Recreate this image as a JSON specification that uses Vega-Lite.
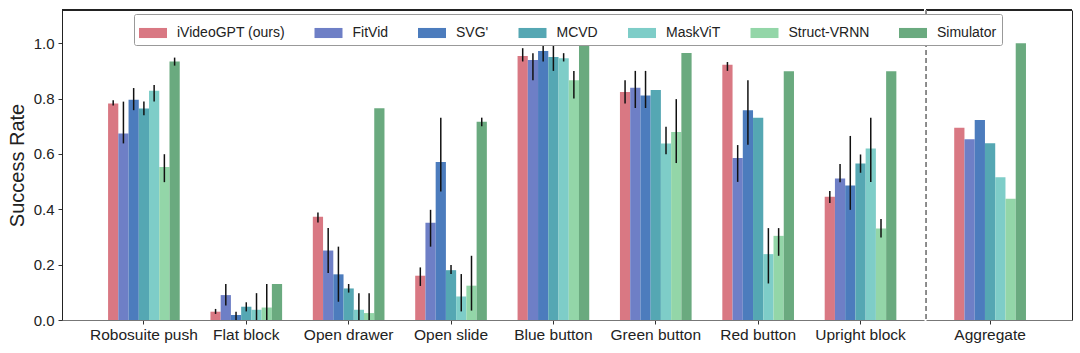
{
  "$schema": "https://vega.github.io/schema/vega-lite/v6.json",
  "padding": {"left": 7, "top": 9, "right": 8, "bottom": 0},
  "config": {
    "view": {"stroke": null},
    "font": "Liberation Sans",
    "axis": {"labelFont": "Liberation Sans", "titleFont": "Liberation Sans", "labelColor": "#222", "titleColor": "#222", "grid": false, "domainColor": "#333", "tickColor": "#333", "labelFontSize": 15, "titleFontWeight": "normal", "tickSize": 4}
  },
  "data": {"values": [
    {"task": "Robosuite push", "method": "iVideoGPT (ours)", "value": 0.782, "lo": 0.775, "hi": 0.794},
    {"task": "Robosuite push", "method": "FitVid", "value": 0.674, "lo": 0.638, "hi": 0.789},
    {"task": "Robosuite push", "method": "SVG'", "value": 0.796, "lo": 0.758, "hi": 0.838},
    {"task": "Robosuite push", "method": "MCVD", "value": 0.764, "lo": 0.740, "hi": 0.789},
    {"task": "Robosuite push", "method": "MaskViT", "value": 0.828, "lo": 0.789, "hi": 0.849},
    {"task": "Robosuite push", "method": "Struct-VRNN", "value": 0.553, "lo": 0.498, "hi": 0.599},
    {"task": "Robosuite push", "method": "Simulator", "value": 0.934, "lo": 0.919, "hi": 0.948},
    {"task": "Flat block", "method": "iVideoGPT (ours)", "value": 0.030, "lo": 0.022, "hi": 0.040},
    {"task": "Flat block", "method": "FitVid", "value": 0.090, "lo": 0.052, "hi": 0.130},
    {"task": "Flat block", "method": "SVG'", "value": 0.018, "lo": 0.0, "hi": 0.030},
    {"task": "Flat block", "method": "MCVD", "value": 0.048, "lo": 0.031, "hi": 0.064},
    {"task": "Flat block", "method": "MaskViT", "value": 0.037, "lo": 0.0, "hi": 0.097},
    {"task": "Flat block", "method": "Struct-VRNN", "value": 0.045, "lo": 0.0, "hi": 0.130},
    {"task": "Flat block", "method": "Simulator", "value": 0.130, "lo": null, "hi": null},
    {"task": "Open drawer", "method": "iVideoGPT (ours)", "value": 0.373, "lo": 0.352, "hi": 0.388},
    {"task": "Open drawer", "method": "FitVid", "value": 0.251, "lo": 0.170, "hi": 0.332},
    {"task": "Open drawer", "method": "SVG'", "value": 0.165, "lo": 0.066, "hi": 0.265},
    {"task": "Open drawer", "method": "MCVD", "value": 0.114, "lo": 0.099, "hi": 0.130},
    {"task": "Open drawer", "method": "MaskViT", "value": 0.037, "lo": 0.0, "hi": 0.097},
    {"task": "Open drawer", "method": "Struct-VRNN", "value": 0.025, "lo": 0.0, "hi": 0.097},
    {"task": "Open drawer", "method": "Simulator", "value": 0.765, "lo": null, "hi": null},
    {"task": "Open slide", "method": "iVideoGPT (ours)", "value": 0.160, "lo": 0.123, "hi": 0.190},
    {"task": "Open slide", "method": "FitVid", "value": 0.351, "lo": 0.265, "hi": 0.398},
    {"task": "Open slide", "method": "SVG'", "value": 0.571, "lo": 0.464, "hi": 0.731},
    {"task": "Open slide", "method": "MCVD", "value": 0.180, "lo": 0.166, "hi": 0.199},
    {"task": "Open slide", "method": "MaskViT", "value": 0.085, "lo": 0.031, "hi": 0.166},
    {"task": "Open slide", "method": "Struct-VRNN", "value": 0.124, "lo": 0.034, "hi": 0.232},
    {"task": "Open slide", "method": "Simulator", "value": 0.716, "lo": 0.700, "hi": 0.731},
    {"task": "Blue button", "method": "iVideoGPT (ours)", "value": 0.954, "lo": 0.934, "hi": 0.982},
    {"task": "Blue button", "method": "FitVid", "value": 0.939, "lo": 0.866, "hi": 0.964},
    {"task": "Blue button", "method": "SVG'", "value": 0.972, "lo": 0.934, "hi": 1.0},
    {"task": "Blue button", "method": "MCVD", "value": 0.950, "lo": 0.900, "hi": 1.0},
    {"task": "Blue button", "method": "MaskViT", "value": 0.946, "lo": 0.934, "hi": 0.964},
    {"task": "Blue button", "method": "Struct-VRNN", "value": 0.866, "lo": 0.800, "hi": 0.900},
    {"task": "Blue button", "method": "Simulator", "value": 1.0, "lo": null, "hi": null},
    {"task": "Green button", "method": "iVideoGPT (ours)", "value": 0.824, "lo": 0.782, "hi": 0.866},
    {"task": "Green button", "method": "FitVid", "value": 0.839, "lo": 0.766, "hi": 0.900},
    {"task": "Green button", "method": "SVG'", "value": 0.811, "lo": 0.766, "hi": 0.900},
    {"task": "Green button", "method": "MCVD", "value": 0.831, "lo": null, "hi": null},
    {"task": "Green button", "method": "MaskViT", "value": 0.638, "lo": 0.599, "hi": 0.698},
    {"task": "Green button", "method": "Struct-VRNN", "value": 0.679, "lo": 0.567, "hi": 0.798},
    {"task": "Green button", "method": "Simulator", "value": 0.965, "lo": null, "hi": null},
    {"task": "Red button", "method": "iVideoGPT (ours)", "value": 0.922, "lo": 0.900, "hi": 0.932},
    {"task": "Red button", "method": "FitVid", "value": 0.585, "lo": 0.499, "hi": 0.632},
    {"task": "Red button", "method": "SVG'", "value": 0.758, "lo": 0.633, "hi": 0.866},
    {"task": "Red button", "method": "MCVD", "value": 0.731, "lo": null, "hi": null},
    {"task": "Red button", "method": "MaskViT", "value": 0.238, "lo": 0.132, "hi": 0.332},
    {"task": "Red button", "method": "Struct-VRNN", "value": 0.304, "lo": 0.232, "hi": 0.332},
    {"task": "Red button", "method": "Simulator", "value": 0.899, "lo": null, "hi": null},
    {"task": "Upright block", "method": "iVideoGPT (ours)", "value": 0.445, "lo": 0.423, "hi": 0.466},
    {"task": "Upright block", "method": "FitVid", "value": 0.511, "lo": 0.498, "hi": 0.564},
    {"task": "Upright block", "method": "SVG'", "value": 0.486, "lo": 0.398, "hi": 0.665},
    {"task": "Upright block", "method": "MCVD", "value": 0.565, "lo": 0.532, "hi": 0.598},
    {"task": "Upright block", "method": "MaskViT", "value": 0.620, "lo": 0.499, "hi": 0.731},
    {"task": "Upright block", "method": "Struct-VRNN", "value": 0.331, "lo": 0.298, "hi": 0.365},
    {"task": "Upright block", "method": "Simulator", "value": 0.899, "lo": null, "hi": null},
    {"task": "Aggregate", "method": "iVideoGPT (ours)", "value": 0.695, "lo": null, "hi": null},
    {"task": "Aggregate", "method": "FitVid", "value": 0.653, "lo": null, "hi": null},
    {"task": "Aggregate", "method": "SVG'", "value": 0.723, "lo": null, "hi": null},
    {"task": "Aggregate", "method": "MCVD", "value": 0.639, "lo": null, "hi": null},
    {"task": "Aggregate", "method": "MaskViT", "value": 0.516, "lo": null, "hi": null},
    {"task": "Aggregate", "method": "Struct-VRNN", "value": 0.438, "lo": null, "hi": null},
    {"task": "Aggregate", "method": "Simulator", "value": 1.0, "lo": null, "hi": null}
  ]},
  "spacing": 0,
  "resolve": {"scale": {"xOffset": "independent"}},
  "hconcat": [
    {
      "width": 862,
      "height": 310,
      "transform": [{"filter": "datum.task != 'Aggregate'"}],
      "layer": [
        {
          "mark": {"type": "bar"},
          "encoding": {
            "x": {"field": "task", "type": "nominal",
              "sort": ["Robosuite push", "Flat block", "Open drawer", "Open slide", "Blue button", "Green button", "Red button", "Upright block"],
              "scale": {"paddingInner": 0.3, "paddingOuter": 0.36, "align": 0.625},
              "axis": {"title": null, "labelAngle": 0, "domainColor": "#777", "labelPadding": 3, "labelFontSize": 15.5}},
            "xOffset": {"field": "method", "type": "nominal",
              "sort": ["iVideoGPT (ours)", "FitVid", "SVG'", "MCVD", "MaskViT", "Struct-VRNN", "Simulator"]},
            "y": {"field": "value", "type": "quantitative", "title": "Success Rate",
              "scale": {"domain": [0, 1.12], "nice": false},
              "axis": {"title": "Success Rate", "values": [0, 0.2, 0.4, 0.6, 0.8, 1.0], "format": ".1f", "titleFontSize": 20, "titlePadding": 6, "labelPadding": 4, "domainColor": "#222"}},
            "color": {"field": "method", "type": "nominal",
              "scale": {"domain": ["iVideoGPT (ours)", "FitVid", "SVG'", "MCVD", "MaskViT", "Struct-VRNN", "Simulator"],
                        "range": ["#d97883", "#6e7fc6", "#4c7cbd", "#55a7b3", "#7ecdc8", "#93d6a8", "#6aaa7f"]},
              "legend": {"title": null, "orient": "none", "legendX": 72, "legendY": 4, "direction": "horizontal", "columns": 7,
                "columnPadding": 29.5, "labelFontSize": 14, "labelColor": "#222", "labelOffset": 10, "padding": 5,
                "strokeColor": "#999", "fillColor": "white", "cornerRadius": 2,
                "symbolType": "M-1,-0.36L1,-0.36L1,0.36L-1,0.36Z", "symbolSize": 784, "symbolStrokeWidth": 0, "symbolOpacity": 1}}
          }
        },
        {
          "transform": [{"filter": "isValid(datum.lo)"}],
          "mark": {"type": "rule", "color": "#111", "strokeWidth": 1.5},
          "encoding": {
            "x": {"field": "task", "type": "nominal",
              "sort": ["Robosuite push", "Flat block", "Open drawer", "Open slide", "Blue button", "Green button", "Red button", "Upright block"]},
            "xOffset": {"field": "method", "type": "nominal",
              "sort": ["iVideoGPT (ours)", "FitVid", "SVG'", "MCVD", "MaskViT", "Struct-VRNN", "Simulator"]},
            "y": {"field": "lo", "type": "quantitative", "title": "Success Rate"},
            "y2": {"field": "hi"}
          }
        },
        {
          "mark": {"type": "rule", "color": "#222", "strokeWidth": 1},
          "encoding": {"y": {"datum": 1.12}}
        }
      ]
    },
    {
      "width": 146,
      "height": 310,
      "transform": [{"filter": "datum.task == 'Aggregate'"}],
      "layer": [
        {
          "mark": {"type": "bar"},
          "encoding": {
            "x": {"field": "task", "type": "nominal",
              "scale": {"paddingInner": 0.3, "paddingOuter": 0.362, "align": 0.38},
              "axis": {"title": null, "labelAngle": 0, "domainColor": "#777", "labelPadding": 3, "labelFontSize": 15.5}},
            "xOffset": {"field": "method", "type": "nominal",
              "sort": ["iVideoGPT (ours)", "FitVid", "SVG'", "MCVD", "MaskViT", "Struct-VRNN", "Simulator"]},
            "y": {"field": "value", "type": "quantitative",
              "scale": {"domain": [0, 1.12], "nice": false},
              "axis": {"orient": "right", "title": null, "labels": false, "ticks": false, "domainColor": "#222"}},
            "color": {"field": "method", "type": "nominal"}
          }
        },
        {
          "mark": {"type": "rule", "color": "#222", "strokeWidth": 1},
          "encoding": {"y": {"datum": 1.12}}
        },
        {
          "mark": {"type": "rule", "color": "#888", "strokeWidth": 1, "strokeDash": [5, 3]},
          "encoding": {"x": {"datum": "Aggregate", "bandPosition": -0.39}}
        }
      ]
    }
  ]
}
